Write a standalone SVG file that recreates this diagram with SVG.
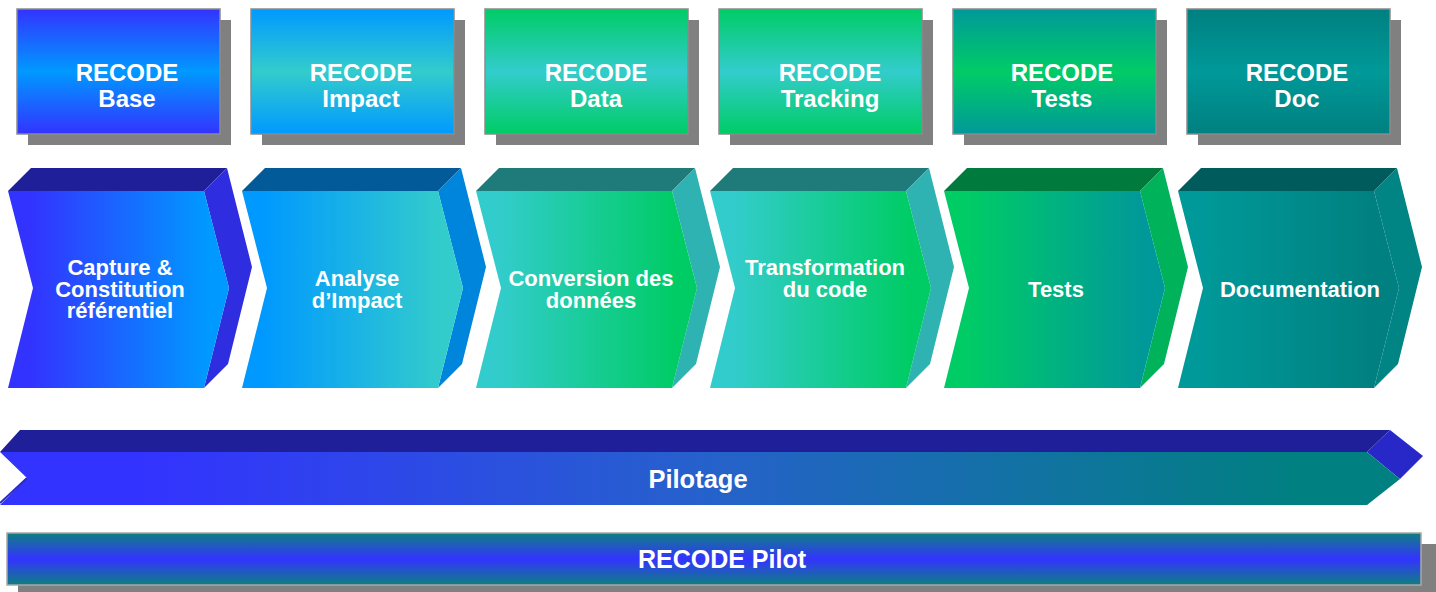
<svg xmlns="http://www.w3.org/2000/svg" width="1436" height="592" viewBox="0 0 1436 592">
<defs>
<style>
text{font-family:"Liberation Sans",Arial,sans-serif;font-weight:bold;fill:#ffffff;text-anchor:middle}
.bt{font-size:24px}
.ct{font-size:22px}
.shadow{fill:#808080}
.box{stroke:#8a8a8a;stroke-width:1.5}
</style>
<linearGradient id="b1" x1="0" y1="0" x2="0" y2="1"><stop offset="0" stop-color="#3333FF"/><stop offset="0.5" stop-color="#0099FF"/><stop offset="1" stop-color="#3333FF"/></linearGradient>
<linearGradient id="b2" x1="0" y1="0" x2="0" y2="1"><stop offset="0" stop-color="#0099FF"/><stop offset="0.5" stop-color="#33CCCC"/><stop offset="1" stop-color="#0099FF"/></linearGradient>
<linearGradient id="b3" x1="0" y1="0" x2="0" y2="1"><stop offset="0" stop-color="#00CC66"/><stop offset="0.5" stop-color="#33CCCC"/><stop offset="1" stop-color="#00CC66"/></linearGradient>
<linearGradient id="b5" x1="0" y1="0" x2="0" y2="1"><stop offset="0" stop-color="#009999"/><stop offset="0.5" stop-color="#00CC66"/><stop offset="1" stop-color="#009999"/></linearGradient>
<linearGradient id="b6" x1="0" y1="0" x2="0" y2="1"><stop offset="0" stop-color="#008080"/><stop offset="0.5" stop-color="#009999"/><stop offset="1" stop-color="#008080"/></linearGradient>
<linearGradient id="c1" x1="0" y1="0" x2="1" y2="0"><stop offset="0.1" stop-color="#3333FF"/><stop offset="0.9" stop-color="#0099FF"/></linearGradient>
<linearGradient id="c2" x1="0" y1="0" x2="1" y2="0"><stop offset="0.1" stop-color="#0099FF"/><stop offset="0.9" stop-color="#33CCCC"/></linearGradient>
<linearGradient id="c3" x1="0" y1="0" x2="1" y2="0"><stop offset="0.1" stop-color="#33CCCC"/><stop offset="0.9" stop-color="#00CC66"/></linearGradient>
<linearGradient id="c5" x1="0" y1="0" x2="1" y2="0"><stop offset="0.1" stop-color="#00CC66"/><stop offset="0.9" stop-color="#009999"/></linearGradient>
<linearGradient id="c6" x1="0" y1="0" x2="1" y2="0"><stop offset="0.1" stop-color="#009999"/><stop offset="0.9" stop-color="#008080"/></linearGradient>
<linearGradient id="pil" x1="0" y1="0" x2="1" y2="0"><stop offset="0.1" stop-color="#3333FF"/><stop offset="0.5" stop-color="#2661CC"/><stop offset="0.93" stop-color="#008080"/></linearGradient>
<linearGradient id="pbar" x1="0" y1="0" x2="0" y2="1"><stop offset="0" stop-color="#0E8080"/><stop offset="0.5" stop-color="#3333FF"/><stop offset="1" stop-color="#0E8080"/></linearGradient>
<path id="front" d="M0,191 L196,191 L221,288 L196,388 L0,388 L25,288 Z"/>
<path id="top" d="M0,191 L23,168 L219,168 L196,191 Z"/>
<path id="side" d="M196,191 L219,168 L244,267 L220,364 L196,388 L221,288 Z"/>
</defs>

<g id="tools">
<g id="tool-base">
<rect class="shadow" x="28" y="20" width="203" height="125"/>
<rect class="box" x="17" y="9" width="203" height="125" fill="url(#b1)"/>
<text class="bt" x="127" y="81">RECODE</text><text class="bt" x="127" y="107">Base</text>
</g>
<g id="tool-impact">
<rect class="shadow" x="262" y="20" width="203" height="125"/>
<rect class="box" x="251" y="9" width="203" height="125" fill="url(#b2)"/>
<text class="bt" x="361" y="81">RECODE</text><text class="bt" x="361" y="107">Impact</text>
</g>
<g id="tool-data">
<rect class="shadow" x="496" y="20" width="203" height="125"/>
<rect class="box" x="485" y="9" width="203" height="125" fill="url(#b3)"/>
<text class="bt" x="596" y="81">RECODE</text><text class="bt" x="596" y="107">Data</text>
</g>
<g id="tool-tracking">
<rect class="shadow" x="730" y="20" width="203" height="125"/>
<rect class="box" x="719" y="9" width="203" height="125" fill="url(#b3)"/>
<text class="bt" x="830" y="81">RECODE</text><text class="bt" x="830" y="107">Tracking</text>
</g>
<g id="tool-tests">
<rect class="shadow" x="964" y="20" width="203" height="125"/>
<rect class="box" x="953" y="9" width="203" height="125" fill="url(#b5)"/>
<text class="bt" x="1062" y="81">RECODE</text><text class="bt" x="1062" y="107">Tests</text>
</g>
<g id="tool-doc">
<rect class="shadow" x="1198" y="20" width="203" height="125"/>
<rect class="box" x="1187" y="9" width="203" height="125" fill="url(#b6)"/>
<text class="bt" x="1297" y="81">RECODE</text><text class="bt" x="1297" y="107">Doc</text>
</g>
</g>

<g id="steps">
<g id="step-capture">
<use href="#top" x="8" fill="#1F1F99"/><use href="#side" x="8" fill="#2E2EE0"/><use href="#front" x="8" fill="url(#c1)"/>
<text class="ct" x="120" y="275">Capture &amp;</text><text class="ct" x="120" y="297">Constitution</text><text class="ct" x="120" y="318">référentiel</text>
</g>
<g id="step-analyse">
<use href="#top" x="242" fill="#035A99"/><use href="#side" x="242" fill="#0085DD"/><use href="#front" x="242" fill="url(#c2)"/>
<text class="ct" x="357" y="286">Analyse</text><text class="ct" x="357" y="308">d’Impact</text>
</g>
<g id="step-conversion">
<use href="#top" x="476" fill="#1F7A7A"/><use href="#side" x="476" fill="#2EB2B2"/><use href="#front" x="476" fill="url(#c3)"/>
<text class="ct" x="591" y="286">Conversion des</text><text class="ct" x="591" y="308">données</text>
</g>
<g id="step-transformation">
<use href="#top" x="710" fill="#1F7A7A"/><use href="#side" x="710" fill="#2EB2B2"/><use href="#front" x="710" fill="url(#c3)"/>
<text class="ct" x="825" y="275">Transformation</text><text class="ct" x="825" y="297">du code</text>
</g>
<g id="step-tests">
<use href="#top" x="944" fill="#007A3D"/><use href="#side" x="944" fill="#00B35A"/><use href="#front" x="944" fill="url(#c5)"/>
<text class="ct" x="1056" y="297">Tests</text>
</g>
<g id="step-documentation">
<use href="#top" x="1178" fill="#005C5C"/><use href="#side" x="1178" fill="#008484"/><use href="#front" x="1178" fill="url(#c6)"/>
<text class="ct" x="1300" y="297">Documentation</text>
</g>
</g>

<g id="pilotage">
<path d="M0,452 L20,430 L1390,430 L1367,452 Z" fill="#1F1F99"/>
<path d="M1367,452 L1390,430 L1423,456 L1400,479 Z" fill="#2828C8"/>
<path d="M0,452 L1367,452 L1400,479 L1367,505 L0,505 L27,478 Z" fill="url(#pil)"/>
<path d="M27,478 L0,503" stroke="#2A2ACC" stroke-width="2" fill="none"/>
<text x="698" y="488" style="font-size:25.5px">Pilotage</text>
</g>

<g id="recode-pilot">
<rect class="shadow" x="18" y="544" width="1418" height="52"/>
<rect x="7" y="533" width="1414" height="52" fill="url(#pbar)" stroke="#a8a8a8" stroke-width="1.5"/>
<text x="722" y="568" style="font-size:25px">RECODE Pilot</text>
</g>

<g id="connectors"></g>
</svg>
